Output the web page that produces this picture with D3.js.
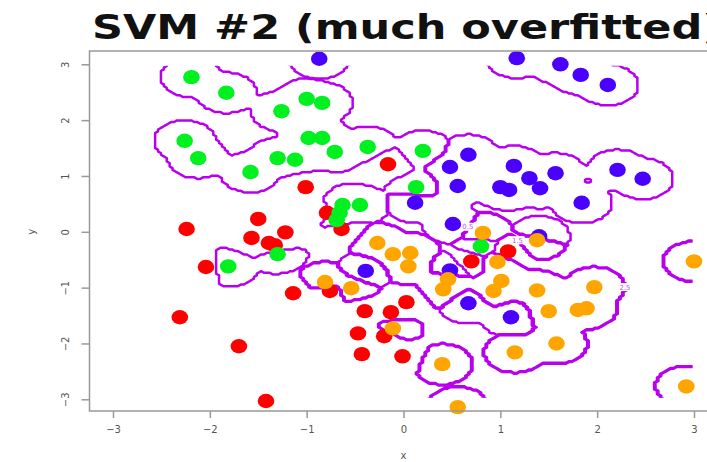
<!DOCTYPE html>
<html>
<head>
<meta charset="utf-8">
<script src="https://cdn.jsdelivr.net/npm/d3@7"></script>
<style>
  body { margin: 0; background: #fff; }
  svg { display: block; font-family: "DejaVu Sans", Verdana, sans-serif; }
</style>
</head>
<body>
<div id="chart"></div>
<script>
// class codes: 0 = blue, 1 = red, 2 = green, 3 = orange
var classColors = ["#4a00ff", "#ff0000", "#00f020", "#ffa500"];

var blueX = [-0.87, 1.17, 1.62, 1.83, 2.11, 0.67, 0.48, 0.56, 1.14, 1.0, 1.09, 1.3, 1.41, 1.57, 2.21, 2.47, 1.84, 0.12, 0.51, 1.4, 0.48, -0.39, 0.67, 1.11];
var blueY = [3.1, 3.11, 3.0, 2.81, 2.63, 1.38, 1.16, 0.82, 1.18, 0.8, 0.75, 0.96, 0.78, 1.05, 1.11, 0.95, 0.52, 0.52, 0.14, -0.08, -0.69, -0.7, -1.28, -1.53];

var redX = [-1.01, -0.16, -0.79, -0.64, 1.08, 0.7, -0.76, 0.03, -0.4, -0.13, -0.47, -0.2, -0.43, -0.01, -2.24, -1.5, -1.22, -1.57, -1.39, -1.33, -2.04, -1.14, -2.31, -1.7, -1.42];
var redY = [0.8, 1.21, 0.34, 0.05, -0.35, -0.53, -1.06, -1.26, -1.42, -1.44, -1.82, -1.87, -2.19, -2.23, 0.05, 0.23, -0.01, -0.11, -0.2, -0.24, -0.63, -1.1, -1.53, -2.05, -3.03];

var greenX = [-2.19, -1.83, -1.26, -1.0, -0.84, -2.26, -2.12, -1.58, -1.3, -1.12, -0.98, -0.84, -0.71, -0.37, 0.2, 0.13, -0.63, -0.45, -0.66, -0.69, 0.8, -1.3, -1.81];
var greenY = [2.77, 2.49, 2.16, 2.38, 2.31, 1.63, 1.32, 1.07, 1.32, 1.29, 1.68, 1.68, 1.43, 1.52, 1.45, 0.8, 0.48, 0.48, 0.34, 0.21, -0.26, -0.4, -0.62];

var orangeX = [0.82, 1.38, -0.27, -0.11, 0.07, 0.05, 0.97, 0.46, 0.41, 1.01, 0.93, 1.38, 1.97, -0.81, -0.54, 1.5, 1.8, 1.89, -0.11, 1.58, 1.15, 0.4, 0.56, 3.0, 2.92];
var orangeY = [-0.02, -0.15, -0.2, -0.4, -0.38, -0.62, -0.54, -0.85, -1.03, -0.88, -1.06, -1.05, -0.99, -0.9, -1.01, -1.42, -1.4, -1.37, -1.73, -2.0, -2.16, -2.37, -3.14, -0.53, -2.77];

var tickValues = [-3, -2, -1, 0, 1, 2, 3];
var contourLevels = [0.5, 1.5, 2.5];

var width = 707, height = 462;

var x = d3.scaleLinear().domain([-3, 3]).range([113, 694]);
var y = d3.scaleLinear().domain([-3, 3]).range([399.3, 64.3]);

var svg = d3.select("#chart").append("svg")
  .attr("width", width)
  .attr("height", height);

// training points
var points = [];
[[blueX, blueY], [redX, redY], [greenX, greenY], [orangeX, orangeY]].forEach(function (s, c) {
  s[0].forEach(function (v, i) {
    points.push({ x: v, y: s[1][i], c: c });
  });
});

// features are standardised like svm(scale = TRUE)
var sx = d3.deviation(points, function (d) { return d.x; });
var sy = d3.deviation(points, function (d) { return d.y; });

// very local rbf-like classifier on a grid, red wins far from data
var gamma = 90, r0 = 0.248;
var redBias = Math.exp(-gamma * r0 * r0);
var step = 0.03, n = Math.round(6 / step) + 1;
var grid = new Array(n * n);
for (var j = 0; j < n; j++) {
  var gy = -3 + j * step;
  for (var i = 0; i < n; i++) {
    var gx = -3 + i * step;
    var score = [0, redBias, 0, 0];
    for (var k = 0; k < points.length; k++) {
      var dx = (gx - points[k].x) / sx, dy = (gy - points[k].y) / sy;
      score[points[k].c] += Math.exp(-gamma * (dx * dx + dy * dy));
    }
    var best = 0;
    for (var c = 1; c < 4; c++) if (score[c] > score[best]) best = c;
    grid[j * n + i] = best;
  }
}

var contours = d3.contours().size([n, n]).thresholds(contourLevels)(grid);

function gridX(px) { return x(-3 + (px - 0.5) * step); }
function gridY(py) { return y(-3 + (py - 0.5) * step); }

var proj = d3.geoTransform({
  point: function (px, py) {
    this.stream.point(gridX(px), gridY(py));
  }
});
var path = d3.geoPath(proj);

svg.append("clipPath").attr("id", "gridclip")
  .append("rect")
  .attr("x", x(-3) + 1.5).attr("y", y(3) + 1.5)
  .attr("width", x(3) - x(-3) - 3).attr("height", y(-3) - y(3) - 3);

var contourG = svg.append("g").attr("clip-path", "url(#gridclip)");

contourG.selectAll("path")
  .data(contours)
  .enter()
  .append("path")
  .attr("d", path)
  .attr("fill", "none")
  .attr("stroke", "#b800ee")
  .attr("stroke-width", 2.5)
  .attr("stroke-linejoin", "round");

// small contour labels, one on each long ring
var labels = [];
contours.forEach(function (ct) {
  ct.coordinates.forEach(function (poly) {
    poly.forEach(function (ring) {
      if (ring.length < 160) return;
      var p = ring[Math.floor(ring.length * 0.35)];
      var lx = gridX(p[0]), ly = gridY(p[1]);
      if (lx < x(-3) + 8 || lx > x(3) - 8 || ly < y(3) + 6 || ly > y(-3) - 6) return;
      labels.push({ x: lx, y: ly, t: d3.format(".1f")(ct.value) });
    });
  });
});
var lab = contourG.selectAll("g.lab").data(labels).enter().append("g").attr("class", "lab");
lab.append("rect")
  .attr("x", function (d) { return d.x - 7; })
  .attr("y", function (d) { return d.y - 4; })
  .attr("width", 14).attr("height", 8)
  .attr("fill", "#fff");
lab.append("text")
  .attr("x", function (d) { return d.x; })
  .attr("y", function (d) { return d.y; })
  .attr("dy", "0.35em")
  .attr("text-anchor", "middle")
  .attr("fill", "#cc55ee")
  .style("font-size", "7px")
  .text(function (d) { return d.t; });

// points, the picture is a little stretched sideways
svg.append("g")
  .selectAll("ellipse")
  .data(points)
  .enter()
  .append("ellipse")
  .attr("cx", function (d) { return x(d.x); })
  .attr("cy", function (d) { return y(d.y); })
  .attr("rx", 8.3)
  .attr("ry", 7.2)
  .attr("fill", function (d) { return classColors[d.c]; });

// box
svg.append("rect")
  .attr("x", 89.5).attr("y", 51)
  .attr("width", 640).attr("height", 360)
  .attr("fill", "none")
  .attr("stroke", "#999")
  .attr("stroke-width", 1.5);

// axes, R style
var xAxis = svg.append("g")
  .attr("transform", "translate(0,411)")
  .call(d3.axisBottom(x).tickValues(tickValues).tickSize(7).tickPadding(8).tickFormat(d3.format("d")));
var yAxis = svg.append("g")
  .attr("transform", "translate(89.5,0)")
  .call(d3.axisLeft(y).tickValues(tickValues).tickSize(8).tickPadding(10).tickFormat(d3.format("d")));

[xAxis, yAxis].forEach(function (a) {
  a.select(".domain").remove();
  a.selectAll("line").attr("stroke", "#999").attr("stroke-width", 1.5);
  a.selectAll("text")
    .attr("fill", "#555")
    .style("font-size", "10px")
    .style("font-family", "DejaVu Sans, sans-serif");
});
yAxis.selectAll("text")
  .attr("text-anchor", "middle")
  .attr("x", null)
  .attr("transform", "translate(-24,0) rotate(-90)")
  .attr("dy", "0.35em");

svg.append("text")
  .attr("x", x(0)).attr("y", 459)
  .attr("text-anchor", "middle")
  .attr("fill", "#555")
  .style("font-size", "10px")
  .text("x");
svg.append("text")
  .attr("transform", "translate(35," + y(0) + ") rotate(-90)")
  .attr("text-anchor", "middle")
  .attr("fill", "#555")
  .style("font-size", "10px")
  .text("y");

svg.append("text")
  .attr("x", 92).attr("y", 39)
  .attr("fill", "#111")
  .attr("textLength", 630)
  .attr("lengthAdjust", "spacingAndGlyphs")
  .style("font-size", "34px")
  .style("font-weight", "bold")
  .text("SVM #2 (much overfitted)");
</script>
</body>
</html>
